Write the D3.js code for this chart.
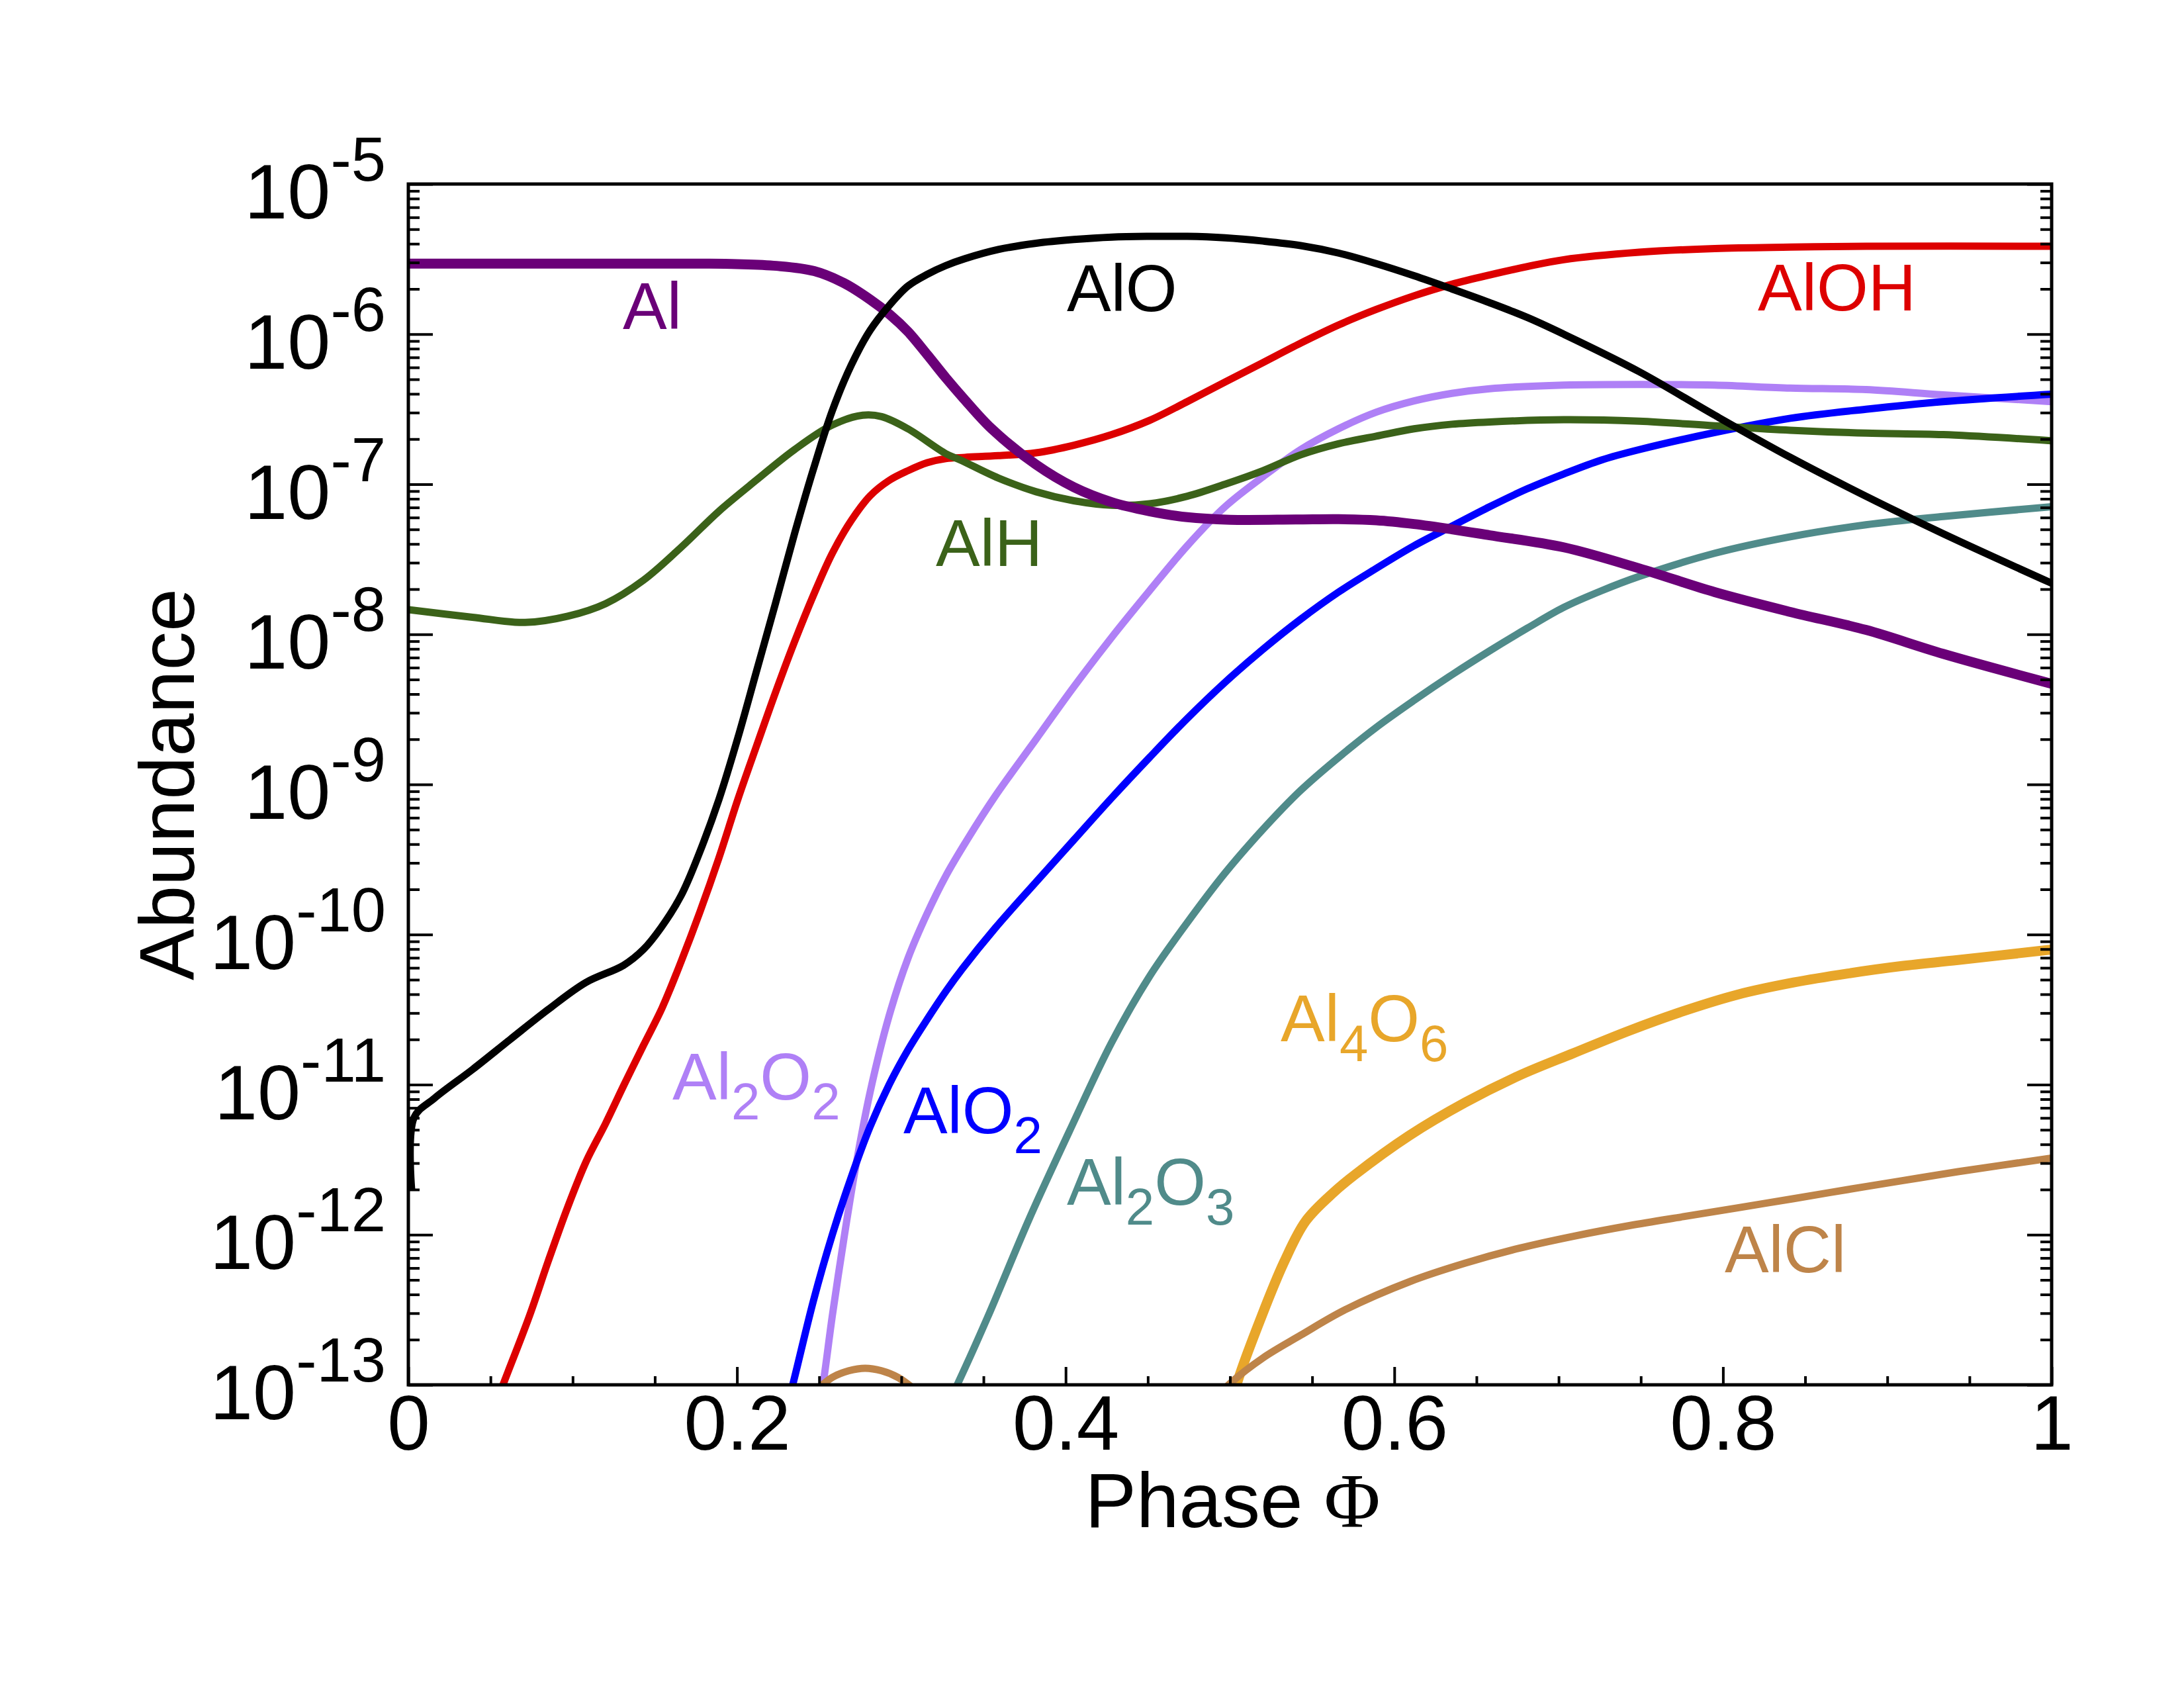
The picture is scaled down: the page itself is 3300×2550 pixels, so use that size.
<!DOCTYPE html>
<html>
<head>
<meta charset="utf-8">
<script src="https://cdn.jsdelivr.net/npm/d3@7"></script>
<style>
  body { margin: 0; background: #fff; }
  text { font-family: "Liberation Sans", Arial, Helvetica, sans-serif; }
</style>
</head>
<body>
<div id="chart"></div>
<script>
// abundances, phase on x
const phaseAl = [0, 0.1, 0.18, 0.2, 0.224, 0.247, 0.265, 0.281, 0.293, 0.304, 0.316, 0.327, 0.338, 0.355, 0.382, 0.405, 0.428, 0.451, 0.474, 0.5, 0.54, 0.566, 0.589, 0.612, 0.635, 0.658, 0.703, 0.749, 0.795, 0.841, 0.887, 0.934, 1.0];
const abundAl = [2.95e-6, 2.95e-6, 2.95e-6, 2.93e-6, 2.85e-6, 2.63e-6, 2.19e-6, 1.70e-6, 1.35e-6, 1.04e-6, 7.24e-7, 5.13e-7, 3.72e-7, 2.34e-7, 1.35e-7, 9.55e-8, 7.59e-8, 6.61e-8, 6.03e-8, 5.80e-8, 5.82e-8, 5.85e-8, 5.75e-8, 5.43e-8, 5.01e-8, 4.57e-8, 3.80e-8, 2.75e-8, 1.91e-8, 1.41e-8, 1.07e-8, 7.41e-9, 4.68e-9];

const phaseAlO = [0.002, 0.0035, 0.016, 0.039, 0.062, 0.085, 0.108, 0.131, 0.143, 0.154, 0.166, 0.177, 0.189, 0.2005, 0.212, 0.2235, 0.235, 0.2465, 0.258, 0.2696, 0.281, 0.2926, 0.304, 0.316, 0.327, 0.3387, 0.359, 0.382, 0.405, 0.428, 0.451, 0.474, 0.497, 0.52, 0.543, 0.566, 0.589, 0.612, 0.635, 0.658, 0.681, 0.703, 0.749, 0.795, 0.841, 0.887, 0.934, 1.0];
const abundAlO = [2.0e-12, 6.03e-12, 8.13e-12, 1.26e-11, 2.0e-11, 3.16e-11, 4.79e-11, 6.24e-11, 7.94e-11, 1.12e-10, 1.82e-10, 3.47e-10, 7.94e-10, 2.04e-9, 5.75e-9, 1.62e-8, 4.68e-8, 1.26e-7, 3.09e-7, 6.24e-7, 1.06e-6, 1.55e-6, 2.09e-6, 2.51e-6, 2.86e-6, 3.18e-6, 3.66e-6, 4.03e-6, 4.27e-6, 4.43e-6, 4.48e-6, 4.48e-6, 4.38e-6, 4.17e-6, 3.89e-6, 3.47e-6, 2.95e-6, 2.45e-6, 2.0e-6, 1.62e-6, 1.29e-6, 1.0e-6, 5.62e-7, 2.88e-7, 1.51e-7, 8.32e-8, 4.68e-8, 2.19e-8];

const phaseAlOH = [0.05, 0.0576, 0.0737, 0.085, 0.0968, 0.1083, 0.12, 0.1313, 0.143, 0.1544, 0.166, 0.1774, 0.189, 0.2005, 0.212, 0.2235, 0.235, 0.2465, 0.258, 0.2696, 0.281, 0.2926, 0.304, 0.3157, 0.327, 0.3387, 0.359, 0.382, 0.405, 0.428, 0.451, 0.474, 0.497, 0.52, 0.543, 0.566, 0.589, 0.612, 0.635, 0.658, 0.681, 0.703, 0.749, 0.795, 0.841, 0.887, 1.0];
const abundAlOH = [6.03e-14, 1.0e-13, 2.88e-13, 6.61e-13, 1.51e-12, 3.09e-12, 5.50e-12, 1.0e-11, 1.82e-11, 3.24e-11, 6.61e-11, 1.41e-10, 3.24e-10, 7.94e-10, 1.82e-9, 4.12e-9, 8.91e-9, 1.82e-8, 3.47e-8, 5.75e-8, 8.37e-8, 1.06e-7, 1.23e-7, 1.39e-7, 1.48e-7, 1.51e-7, 1.55e-7, 1.62e-7, 1.82e-7, 2.14e-7, 2.66e-7, 3.55e-7, 4.79e-7, 6.46e-7, 8.71e-7, 1.15e-6, 1.46e-6, 1.80e-6, 2.15e-6, 2.48e-6, 2.82e-6, 3.13e-6, 3.51e-6, 3.72e-6, 3.80e-6, 3.85e-6, 3.85e-6];

const phaseAlH = [0, 0.039, 0.071, 0.097, 0.12, 0.143, 0.166, 0.189, 0.212, 0.235, 0.258, 0.2765, 0.288, 0.304, 0.327, 0.336, 0.359, 0.382, 0.405, 0.428, 0.451, 0.474, 0.497, 0.52, 0.543, 0.566, 0.589, 0.612, 0.635, 0.658, 0.703, 0.749, 0.795, 0.841, 0.887, 0.934, 1.0];
const abundAlH = [1.46e-8, 1.30e-8, 1.20e-8, 1.32e-8, 1.60e-8, 2.29e-8, 3.80e-8, 6.61e-8, 1.07e-7, 1.70e-7, 2.48e-7, 2.88e-7, 2.82e-7, 2.34e-7, 1.60e-7, 1.45e-7, 1.10e-7, 8.91e-8, 7.76e-8, 7.24e-8, 7.41e-8, 8.32e-8, 1.0e-7, 1.23e-7, 1.57e-7, 1.86e-7, 2.09e-7, 2.34e-7, 2.51e-7, 2.60e-7, 2.69e-7, 2.63e-7, 2.45e-7, 2.29e-7, 2.19e-7, 2.14e-7, 1.95e-7];

const phaseAl2O2 = [0.249, 0.2523, 0.258, 0.265, 0.272, 0.281, 0.2926, 0.304, 0.3157, 0.327, 0.34, 0.357, 0.382, 0.405, 0.428, 0.451, 0.474, 0.497, 0.52, 0.543, 0.566, 0.589, 0.612, 0.635, 0.658, 0.703, 0.749, 0.795, 0.841, 0.887, 0.934, 1.0];
const abundAl2O2 = [6.31e-14, 1.0e-13, 2.88e-13, 9.33e-13, 2.75e-12, 8.91e-12, 2.88e-11, 6.92e-11, 1.38e-10, 2.45e-10, 4.27e-10, 8.32e-10, 2.0e-9, 4.47e-9, 9.55e-9, 1.95e-8, 3.89e-8, 7.08e-8, 1.12e-7, 1.70e-7, 2.34e-7, 3.02e-7, 3.59e-7, 4.03e-7, 4.33e-7, 4.57e-7, 4.62e-7, 4.57e-7, 4.37e-7, 4.27e-7, 3.94e-7, 3.55e-7];

const phaseAlO2 = [0.229, 0.2339, 0.2465, 0.258, 0.2696, 0.281, 0.2926, 0.304, 0.3157, 0.327, 0.337, 0.357, 0.382, 0.405, 0.428, 0.451, 0.474, 0.497, 0.52, 0.543, 0.566, 0.589, 0.612, 0.635, 0.658, 0.681, 0.703, 0.726, 0.749, 0.795, 0.841, 0.887, 0.934, 1.0];
const abundAlO2 = [6.31e-14, 1.0e-13, 3.63e-13, 1.0e-12, 2.43e-12, 5.25e-12, 1.0e-11, 1.70e-11, 2.72e-11, 4.17e-11, 5.89e-11, 1.10e-10, 2.24e-10, 4.27e-10, 8.13e-10, 1.51e-9, 2.75e-9, 4.79e-9, 7.94e-9, 1.26e-8, 1.91e-8, 2.75e-8, 3.89e-8, 5.25e-8, 7.08e-8, 9.33e-8, 1.17e-7, 1.45e-7, 1.70e-7, 2.21e-7, 2.75e-7, 3.16e-7, 3.55e-7, 3.98e-7];

const phaseAl2O3 = [0.326, 0.334, 0.3525, 0.378, 0.404, 0.428, 0.451, 0.474, 0.497, 0.52, 0.543, 0.566, 0.589, 0.612, 0.635, 0.658, 0.681, 0.703, 0.726, 0.749, 0.795, 0.841, 0.887, 0.934, 1.0];
const abundAl2O3 = [6.61e-14, 1.0e-13, 2.82e-13, 1.29e-12, 5.37e-12, 1.91e-11, 5.25e-11, 1.20e-10, 2.57e-10, 5.01e-10, 9.12e-10, 1.51e-9, 2.40e-9, 3.63e-9, 5.37e-9, 7.76e-9, 1.10e-8, 1.51e-8, 1.95e-8, 2.43e-8, 3.47e-8, 4.47e-8, 5.37e-8, 6.10e-8, 7.08e-8];

const phaseAl4O6 = [0.5, 0.504, 0.519, 0.533, 0.546, 0.563, 0.576, 0.609, 0.643, 0.676, 0.709, 0.743, 0.776, 0.809, 0.843, 0.876, 0.909, 0.943, 1.0];
const abundAl4O6 = [6.31e-14, 1.0e-13, 2.82e-13, 6.61e-13, 1.23e-12, 1.91e-12, 2.51e-12, 4.57e-12, 7.59e-12, 1.15e-11, 1.62e-11, 2.29e-11, 3.09e-11, 3.98e-11, 4.79e-11, 5.50e-11, 6.17e-11, 6.76e-11, 7.94e-11];

// AlCl has a small bump near 0.28, then a gap (null), then the main branch
const phaseAlCl = [0.249, 0.258, 0.268, 0.278, 0.288, 0.298, 0.308, 0.4, 0.495, 0.5, 0.52, 0.543, 0.57, 0.61, 0.643, 0.676, 0.709, 0.743, 0.776, 0.809, 0.843, 0.876, 0.909, 0.943, 1.0];
const abundAlCl = [9.33e-14, 1.12e-13, 1.24e-13, 1.29e-13, 1.24e-13, 1.12e-13, 9.33e-14, null, 8.91e-14, 1.02e-13, 1.51e-13, 2.14e-13, 3.16e-13, 4.90e-13, 6.46e-13, 8.13e-13, 9.77e-13, 1.15e-12, 1.32e-12, 1.51e-12, 1.74e-12, 2.0e-12, 2.29e-12, 2.63e-12, 3.24e-12];

const xTicks = [0, 0.2, 0.4, 0.6, 0.8, 1];
const yDecades = [1e-5, 1e-6, 1e-7, 1e-8, 1e-9, 1e-10, 1e-11, 1e-12, 1e-13];
const yExponents = ['-5', '-6', '-7', '-8', '-9', '-10', '-11', '-12', '-13'];

const W = 3300, H = 2550;
const margin = { top: 278, right: 200, bottom: 458, left: 617 };
const width = W - margin.left - margin.right;
const height = H - margin.top - margin.bottom;

const series = [
  { name: 'Al2O2', phase: phaseAl2O2, abund: abundAl2O2, color: '#af80f6', lw: 11 },
  { name: 'AlO2', phase: phaseAlO2, abund: abundAlO2, color: '#0000ff', lw: 11 },
  { name: 'Al2O3', phase: phaseAl2O3, abund: abundAl2O3, color: '#508b8a', lw: 11 },
  { name: 'Al4O6', phase: phaseAl4O6, abund: abundAl4O6, color: '#e8a62a', lw: 15 },
  { name: 'AlCl', phase: phaseAlCl, abund: abundAlCl, color: '#be8449', lw: 11 },
  { name: 'AlOH', phase: phaseAlOH, abund: abundAlOH, color: '#dd0000', lw: 11 },
  { name: 'AlH', phase: phaseAlH, abund: abundAlH, color: '#3b6219', lw: 11 },
  { name: 'Al', phase: phaseAl, abund: abundAl, color: '#6a0078', lw: 15 },
  { name: 'AlO', phase: phaseAlO, abund: abundAlO, color: '#000000', lw: 11 }
];

// label anchors in data coordinates; parts: [text, isSubscript]
const labels = [
  { parts: [['Al', 0]], x: 0.1305, y: 1.08e-6, color: '#6a0078' },
  { parts: [['AlO', 0]], x: 0.4007, y: 1.42e-6, color: '#000000' },
  { parts: [['AlOH', 0]], x: 0.8212, y: 1.44e-6, color: '#dd0000' },
  { parts: [['AlH', 0]], x: 0.321, y: 2.85e-8, color: '#3b6219' },
  { parts: [['Al', 0], ['2', 1], ['O', 0], ['2', 1]], x: 0.1607, y: 7.96e-12, color: '#af80f6' },
  { parts: [['AlO', 0], ['2', 1]], x: 0.3012, y: 4.74e-12, color: '#0000ff' },
  { parts: [['Al', 0], ['2', 1], ['O', 0], ['3', 1]], x: 0.4007, y: 1.58e-12, color: '#508b8a' },
  { parts: [['Al', 0], ['4', 1], ['O', 0], ['6', 1]], x: 0.5308, y: 1.95e-11, color: '#e8a62a' },
  { parts: [['AlCl', 0]], x: 0.801, y: 5.62e-13, color: '#be8449' }
];

const svg = d3.select('#chart').append('svg')
  .attr('width', W).attr('height', H)
  .style('background', '#fff');

const g = svg.append('g').attr('transform', `translate(${margin.left},${margin.top})`);

const x = d3.scaleLinear().domain([0, 1]).range([0, width]);
const y = d3.scaleLog().domain([1e-13, 1e-5]).range([height, 0]);

g.append('clipPath').attr('id', 'plotClip')
  .append('rect').attr('width', width).attr('height', height);

const line = d3.line()
  .defined(d => d.v != null)
  .x(d => x(d.p))
  .y(d => y(d.v))
  .curve(d3.curveCatmullRom.alpha(0.5));

const lines = g.append('g').attr('clip-path', 'url(#plotClip)');
series.forEach(s => {
  const pts = s.phase.map((p, i) => ({ p: p, v: s.abund[i] }));
  lines.append('path')
    .datum(pts)
    .attr('d', line)
    .attr('fill', 'none')
    .attr('stroke', s.color)
    .attr('stroke-width', s.lw)
    .attr('stroke-linejoin', 'round');
});

// minor tick positions
const yMinor = [];
for (let e = -13; e < -5; e++) {
  for (let m = 2; m <= 9; m++) yMinor.push(m * Math.pow(10, e));
}
const xMinor = d3.range(0, 21).map(i => i * 0.05).filter(v => !xTicks.some(t => Math.abs(t - v) < 1e-9));

function styleAxis(sel) {
  sel.select('.domain').remove();
  sel.selectAll('.tick line').attr('stroke', '#000').attr('stroke-width', 4);
}

g.append('g').call(d3.axisLeft(y).tickValues(yMinor).tickSize(-17).tickFormat('')).call(styleAxis);
g.append('g').call(d3.axisLeft(y).tickValues(yDecades).tickSize(-37).tickFormat('')).call(styleAxis);
g.append('g').attr('transform', `translate(${width},0)`)
  .call(d3.axisRight(y).tickValues(yMinor).tickSize(-17).tickFormat('')).call(styleAxis);
g.append('g').attr('transform', `translate(${width},0)`)
  .call(d3.axisRight(y).tickValues(yDecades).tickSize(-37).tickFormat('')).call(styleAxis);
g.append('g').attr('transform', `translate(0,${height})`)
  .call(d3.axisBottom(x).tickValues(xMinor).tickSize(-13).tickFormat('')).call(styleAxis);

const xAxis = g.append('g').attr('transform', `translate(0,${height})`)
  .call(d3.axisBottom(x).tickValues(xTicks).tickSize(-27).tickFormat(d3.format('~g')))
  .call(styleAxis);
xAxis.selectAll('.tick text')
  .attr('y', 98).attr('dy', 0)
  .attr('fill', '#000')
  .style('font-size', '116px')
  .style('font-family', '"Liberation Sans", Arial, sans-serif');

// y tick labels: 10 with superscript exponent
const yLab = g.append('g').selectAll('text')
  .data(yDecades)
  .join('text')
  .attr('x', -34)
  .attr('y', d => y(d) + 52)
  .attr('text-anchor', 'end')
  .attr('fill', '#000');
yLab.append('tspan').style('font-size', '117px').text('10');
yLab.append('tspan').style('font-size', '94px').attr('dy', -57)
  .text((d, i) => yExponents[i]);

// frame
g.append('rect')
  .attr('width', width).attr('height', height)
  .attr('fill', 'none').attr('stroke', '#000').attr('stroke-width', 5);

// curve labels
labels.forEach(l => {
  const t = g.append('text')
    .attr('x', x(l.x)).attr('y', y(l.y))
    .attr('fill', l.color)
    .style('font-size', '100px');
  let sub = 0;
  l.parts.forEach(([txt, isSub]) => {
    const shift = (isSub ? 30 : 0) - sub;
    sub = isSub ? 30 : 0;
    t.append('tspan')
      .attr('dy', shift)
      .style('font-size', isSub ? '78px' : '100px')
      .text(txt);
  });
});

// axis titles
const xt = svg.append('text')
  .attr('x', margin.left + width / 2 + 4)
  .attr('y', 2307)
  .attr('text-anchor', 'middle')
  .attr('fill', '#000')
  .style('font-size', '116px');
xt.append('tspan').text('Phase ');
xt.append('tspan').style('font-family', '"Liberation Serif", "Times New Roman", serif').text('\u03A6');

svg.append('text')
  .attr('transform', `translate(293,${margin.top + height / 2}) rotate(-90)`)
  .attr('text-anchor', 'middle')
  .attr('fill', '#000')
  .style('font-size', '117px')
  .text('Abundance');
</script>
</body>
</html>
